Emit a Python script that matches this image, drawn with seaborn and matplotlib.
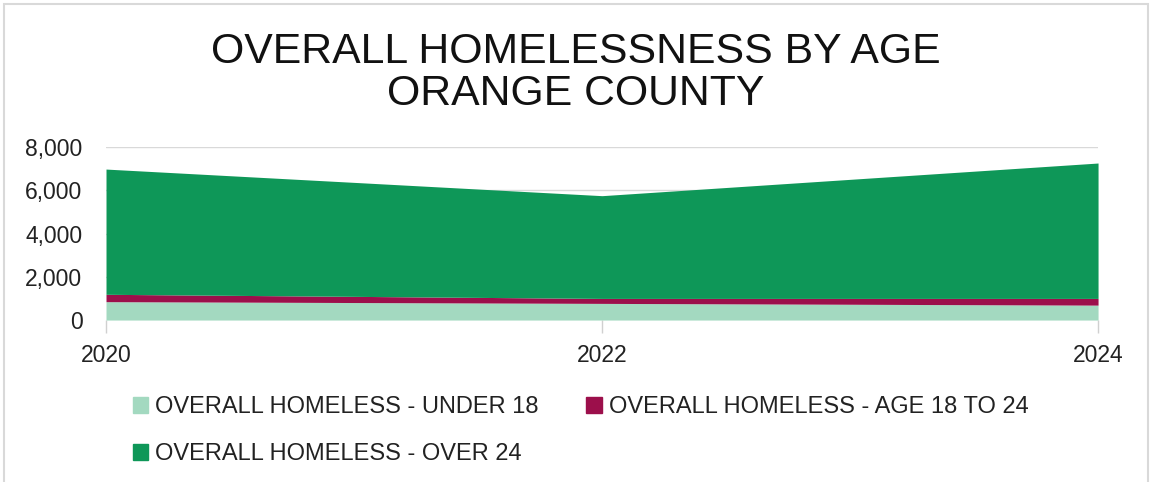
import matplotlib
matplotlib.use("Agg")
import matplotlib.pyplot as plt
from matplotlib.patches import Rectangle
from matplotlib.ticker import FuncFormatter
import numpy as np
import pandas as pd
import seaborn as sns

# Point-in-time counts by age group
years = [2020, 2022, 2024]
under_18 = [850, 770, 690]
age_18_to_24 = [340, 230, 310]
over_24 = [5790, 4750, 6260]

series_names = [
    "OVERALL HOMELESS - UNDER 18",
    "OVERALL HOMELESS - AGE 18 TO 24",
    "OVERALL HOMELESS - OVER 24",
]
colors = ["#a3d9c0", "#9c0f4b", "#0e9758"]

df = pd.DataFrame({
    "year": years,
    series_names[0]: under_18,
    series_names[1]: age_18_to_24,
    series_names[2]: over_24,
})

sns.set_theme(style="white")
plt.rcParams["font.family"] = ["Liberation Sans", "DejaVu Sans"]

fig = plt.figure(figsize=(11.51, 4.82), dpi=100)
ax = fig.add_axes([0.0921, 0.336, 0.8619, 0.359])

# light horizontal gridlines behind the areas
for yv in [2000, 4000, 6000, 8000]:
    ax.axhline(yv, color="#d9d9d9", lw=1.0, zorder=0)

ax.stackplot(df["year"], [df[n] for n in series_names],
             colors=colors, labels=series_names, zorder=2, lw=0)

ax.set_xlim(2020, 2024)
ax.set_ylim(0, 8000)
ax.set_xticks(years)
ax.set_yticks([0, 2000, 4000, 6000, 8000])
ax.yaxis.set_major_formatter(FuncFormatter(lambda v, p: f"{int(v):,}"))
ax.tick_params(axis="y", length=0, pad=17, labelsize=16.5, labelcolor="#222222")
ax.tick_params(axis="x", length=9, width=1, color="#d0d0d0", pad=8,
               labelsize=16.5, labelcolor="#222222", direction="out")
ax.xaxis.set_ticks_position("bottom")
for s in ax.spines.values():
    s.set_visible(False)
ax.grid(False)

fig.text(0.5, 0.848, "OVERALL HOMELESSNESS BY AGE\nORANGE COUNTY",
         ha="center", va="center", fontsize=30.8, color="#111111",
         linespacing=1.06)

# legend below the plot area, filled row by row
order = [0, 2, 1]
handles = [Rectangle((0, 0), 1, 1, color=colors[i]) for i in order]
labels = [series_names[i] for i in order]
fig.legend(handles, labels, loc="upper left", ncol=2,
           bbox_to_anchor=(0.1156, 0.178), frameon=False, fontsize=17,
           borderpad=0, borderaxespad=0,
           handlelength=0.65, handleheight=0.65, handletextpad=0.3,
           columnspacing=2.0, labelspacing=1.05, labelcolor="#222222")

# thin grey frame around the chart
frame = Rectangle((4 / 1151, -0.05), (1148 - 4) / 1151, 1 - 4 / 482 + 0.05,
                  transform=fig.transFigure, fill=False, edgecolor="#d9d9d9",
                  lw=1.5, clip_on=False)
fig.patches.append(frame)

fig.savefig("out.png", dpi=100)
